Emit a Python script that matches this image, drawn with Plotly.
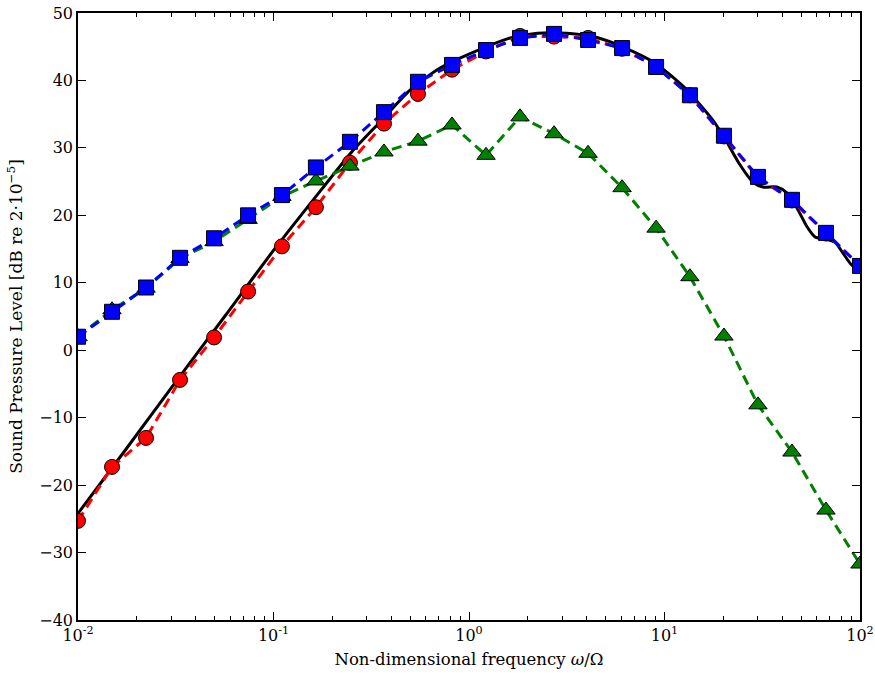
import numpy as np
import plotly.graph_objects as go

# marker frequencies: exponents (log10) of omega/Omega
freq_exp = [-2.0, -1.826, -1.652, -1.478, -1.304, -1.130, -0.957, -0.783,
            -0.609, -0.435, -0.261, -0.087, 0.087, 0.261, 0.435, 0.609,
            0.783, 0.957, 1.130, 1.304, 1.478, 1.652, 1.826, 2.0]
freq = [10 ** e for e in freq_exp]

red_vals = [-25.3, -17.3, -13.0, -4.4, 1.9, 8.7, 15.4, 21.2, 27.8, 33.6, 38.0, 41.6,
            44.3, 46.6, 46.5, 46.3, 44.7, 42.0, 37.8, 31.7, 25.6, 22.2, 17.3, 12.5]
blue_vals = [2.0, 5.7, 9.3, 13.7, 16.6, 20.0, 23.0, 27.1, 30.9, 35.3, 39.8, 42.3,
             44.5, 46.3, 46.9, 46.0, 44.8, 42.0, 37.8, 31.8, 25.7, 22.3, 17.4, 12.5]
green_vals = [2.0, 6.0, 9.2, 13.6, 16.1, 19.4, 22.8, 25.1, 27.3, 29.4, 31.0, 33.4,
              28.9, 34.6, 32.1, 29.2, 24.1, 18.1, 10.9, 2.1, -8.1, -15.1, -23.7, -31.7]

# reference (solid black) curve
black_exp = [-2.0, -1.75, -1.5, -1.25, -1.0, -0.75, -0.6, -0.45, -0.3, -0.15, 0.0,
             0.2, 0.35, 0.5, 0.65, 0.8, 0.95, 1.1, 1.25, 1.32, 1.386, 1.453, 1.504,
             1.575, 1.627, 1.683, 1.729, 1.770, 1.821, 1.872, 1.913, 1.959, 2.0]
black_vals = [-24.2, -14.5, -4.7, 5.0, 14.8, 24.0, 29.4, 34.0, 38.6, 41.8, 43.9,
              46.2, 47.0, 47.0, 46.4, 44.8, 42.6, 39.0, 34.0, 30.8, 27.5, 24.9, 24.2,
              24.2, 23.3, 20.8, 18.3, 16.8, 16.5, 16.0, 14.4, 12.6, 12.2]
black_x = [10 ** e for e in black_exp]

x_tickvals = [0.01, 0.1, 1, 10, 100]
x_ticktext = ["10<sup>-2</sup>", "10<sup>-1</sup>", "10<sup>0</sup>", "10<sup>1</sup>", "10<sup>2</sup>"]
y_tickvals = [-40, -30, -20, -10, 0, 10, 20, 30, 40, 50]

font = "DejaVu Serif"
dash = "10px,6px"

fig = go.Figure()
fig.add_trace(go.Scatter(x=black_x, y=black_vals, mode="lines",
                         line=dict(color="black", width=3, shape="spline", smoothing=0.7),
                         showlegend=False))
fig.add_trace(go.Scatter(x=freq, y=red_vals, mode="lines+markers",
                         line=dict(color="red", width=3, dash=dash),
                         marker=dict(symbol="circle", size=15, color="red",
                                     line=dict(color="black", width=1)),
                         showlegend=False))
fig.add_trace(go.Scatter(x=freq, y=green_vals, mode="lines+markers",
                         line=dict(color="green", width=3, dash=dash),
                         marker=dict(symbol="triangle-up", size=16, color="green",
                                     line=dict(color="black", width=1)),
                         showlegend=False))
fig.add_trace(go.Scatter(x=freq, y=blue_vals, mode="lines+markers",
                         line=dict(color="blue", width=3, dash=dash),
                         marker=dict(symbol="square", size=15, color="blue",
                                     line=dict(color="black", width=1)),
                         showlegend=False))

fig.update_layout(
    width=875, height=677,
    margin=dict(l=78, r=15, t=13, b=57),
    plot_bgcolor="white", paper_bgcolor="white",
    font=dict(family=font, size=16, color="black"),
)
fig.update_xaxes(
    type="log", range=[-2, 2], automargin=False,
    tickvals=x_tickvals, ticktext=x_ticktext,
    ticks="inside", ticklen=8, tickwidth=1, tickcolor="black",
    minor=dict(ticks="inside", ticklen=4, tickcolor="black",
               tickvals=[m * 10 ** d for d in range(-2, 2) for m in range(2, 10)]),
    showline=True, linewidth=1.5, linecolor="black", mirror="ticks",
    showgrid=False, zeroline=False,
    title=dict(text="Non-dimensional frequency <i>ω</i>/Ω", font=dict(size=16.5), standoff=9),
)
fig.update_yaxes(
    range=[-40, 50], automargin=False, tickvals=y_tickvals,
    ticks="inside", ticklen=8, tickwidth=1, tickcolor="black",
    showline=True, linewidth=1.5, linecolor="black", mirror="ticks",
    showgrid=False, zeroline=False,
    title=dict(text="Sound Pressure Level [dB re 2·10<sup>−5</sup>]", font=dict(size=17), standoff=12),
)

fig.write_html("out.html")
